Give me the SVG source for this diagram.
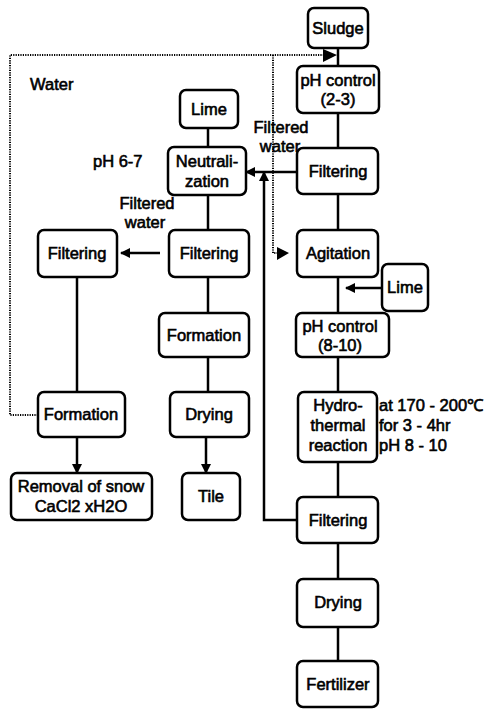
<svg xmlns="http://www.w3.org/2000/svg" width="489" height="710" viewBox="0 0 489 710">
<style>
.box{fill:#fff;stroke:#000;stroke-width:2.5}
.t{font-family:"Liberation Sans",Arial,sans-serif;font-size:16.5px;fill:#000;stroke:#000;stroke-width:0.6;text-anchor:middle}
.l{text-anchor:start}
.c{fill:none;stroke:#000;stroke-width:2.5}
.d{fill:none;stroke:#000;stroke-width:2;stroke-dasharray:1.2 1.2}
.h{fill:#000;stroke:none}
</style>
<defs>
<marker id="a" markerWidth="10" markerHeight="10" refX="9" refY="5" orient="auto" markerUnits="userSpaceOnUse"><path d="M0,0 L10,5 L0,10 Z" fill="#000"/></marker>
</defs>
<rect width="489" height="710" fill="#fff"/>
<g id="connectors">
<line class="c" x1="338" y1="48" x2="338" y2="66"/>
<line class="c" x1="338" y1="113" x2="338" y2="148"/>
<line class="c" x1="338" y1="194" x2="338" y2="230"/>
<line class="c" x1="338" y1="277" x2="338" y2="313"/>
<line class="c" x1="382" y1="288" x2="346" y2="288" marker-end="url(#a)"/>
<line class="c" x1="338" y1="357" x2="338" y2="392"/>
<line class="c" x1="338" y1="462" x2="338" y2="497"/>
<line class="c" x1="338" y1="543" x2="338" y2="579"/>
<line class="c" x1="338" y1="627" x2="338" y2="661"/>
<line class="c" x1="297" y1="172" x2="246" y2="172" marker-end="url(#a)"/>
<polyline class="c" points="297,520 264,520 264,172" marker-end="url(#a)"/>
<line class="c" x1="208" y1="128" x2="208" y2="147"/>
<line class="c" x1="208" y1="195" x2="208" y2="230"/>
<line class="c" x1="160" y1="253" x2="121" y2="253" marker-end="url(#a)"/>
<line class="c" x1="208" y1="277" x2="208" y2="313"/>
<line class="c" x1="208" y1="357" x2="208" y2="392"/>
<line class="c" x1="206" y1="437" x2="206" y2="473" marker-end="url(#a)"/>
<line class="c" x1="77" y1="277" x2="77" y2="392"/>
<line class="c" x1="77" y1="437" x2="77" y2="473" marker-end="url(#a)"/>
<polyline class="d" points="38,415 10,415 10,55 324,55"/>
<polygon class="h" points="323,49 337,55 323,62"/>
<polyline class="d" points="273,55 273,253 278,253"/>
<polygon class="h" points="277,247 289,253 277,260"/>
</g>
<g id="sludge"><rect class="box" x="308" y="8" width="60" height="40" rx="6"/><text class="t" x="338" y="34">Sludge</text></g>
<g id="ph23"><rect class="box" x="297" y="66" width="82" height="47" rx="6"/><text class="t" x="338" y="86">pH control</text><text class="t" x="338" y="105">(2-3)</text></g>
<g id="filtering1"><rect class="box" x="297" y="148" width="81" height="46" rx="6"/><text class="t" x="338" y="177">Filtering</text></g>
<g id="agitation"><rect class="box" x="297" y="230" width="81" height="47" rx="6"/><text class="t" x="338" y="259">Agitation</text></g>
<g id="lime2"><rect class="box" x="382" y="264" width="46" height="47" rx="6"/><text class="t" x="405" y="293">Lime</text></g>
<g id="ph810"><rect class="box" x="296" y="313" width="93" height="44" rx="6"/><text class="t" x="340" y="332">pH control</text><text class="t" x="340" y="351">(8-10)</text></g>
<g id="hydro"><rect class="box" x="298" y="392" width="79" height="70" rx="6"/><text class="t" x="338" y="411">Hydro-</text><text class="t" x="338" y="431">thermal</text><text class="t" x="338" y="451">reaction</text></g>
<g id="filtering2"><rect class="box" x="297" y="497" width="81" height="46" rx="6"/><text class="t" x="338" y="526">Filtering</text></g>
<g id="drying1"><rect class="box" x="297" y="579" width="81" height="48" rx="6"/><text class="t" x="338" y="608">Drying</text></g>
<g id="fertilizer"><rect class="box" x="297" y="661" width="81" height="46" rx="6"/><text class="t" x="338" y="690">Fertilizer</text></g>
<g id="lime1"><rect class="box" x="180" y="90" width="58" height="38" rx="6"/><text class="t" x="209" y="115">Lime</text></g>
<g id="neutralization"><rect class="box" x="168" y="147" width="78" height="48" rx="6"/><text class="t" x="207" y="167">Neutrali-</text><text class="t" x="207" y="187">zation</text></g>
<g id="filtering3"><rect class="box" x="169" y="230" width="80" height="47" rx="6"/><text class="t" x="209" y="259">Filtering</text></g>
<g id="formation1"><rect class="box" x="159" y="313" width="90" height="44" rx="6"/><text class="t" x="204" y="341">Formation</text></g>
<g id="drying2"><rect class="box" x="170" y="392" width="79" height="45" rx="6"/><text class="t" x="209" y="420">Drying</text></g>
<g id="tile"><rect class="box" x="182" y="473" width="58" height="47" rx="6"/><text class="t" x="211" y="502">Tile</text></g>
<g id="filtering4"><rect class="box" x="38" y="230" width="79" height="47" rx="6"/><text class="t" x="77" y="259">Filtering</text></g>
<g id="formation2"><rect class="box" x="38" y="392" width="87" height="45" rx="6"/><text class="t" x="81" y="420">Formation</text></g>
<g id="removal"><rect class="box" x="11" y="473" width="141" height="47" rx="6"/><text class="t" x="81" y="492">Removal of snow</text><text class="t" x="81" y="512">CaCl2 xH2O</text></g>
<g id="labels">
<text class="t l" x="30" y="90">Water</text>
<text class="t l" x="93" y="167">pH 6-7</text>
<text class="t" x="281" y="133">Filtered</text>
<text class="t" x="280" y="152">water</text>
<text class="t" x="147" y="209">Filtered</text>
<text class="t" x="145" y="228">water</text>
<text class="t l" x="379" y="411">at 170 - 200℃</text>
<text class="t l" x="379" y="431">for 3 - 4hr</text>
<text class="t l" x="379" y="451">pH 8 - 10</text>
</g>
</svg>
